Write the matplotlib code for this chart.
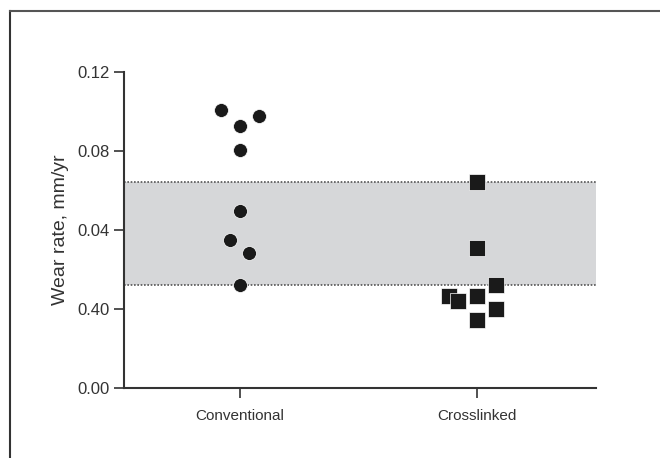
import matplotlib
matplotlib.use("Agg")
import matplotlib.pyplot as plt
from matplotlib.lines import Line2D

plt.rcParams['font.family'] = ['Liberation Sans', 'DejaVu Sans']

categories = ["Conventional", "Crosslinked"]
tick_values = [0.0, 0.03, 0.06, 0.09, 0.12]
tick_labels = ["0.00", "0.40", "0.04", "0.08", "0.12"]

conv_values = [0.1056, 0.1033, 0.0995, 0.0904, 0.0672, 0.0562, 0.0513, 0.0391]
conv_offsets = [-0.08, 0.08, 0.0, 0.0, 0.0, -0.04, 0.04, 0.0]
cross_values = [0.0782, 0.0532, 0.0391, 0.0349, 0.0330, 0.0349, 0.0300, 0.0258]
cross_offsets = [0.0, 0.0, 0.08, -0.12, -0.08, 0.0, 0.08, 0.0]
band_low, band_high = 0.0391, 0.0782

fig = plt.figure(figsize=(6.6, 4.58), dpi=100)
ax = fig.add_axes([124/660, (458-388)/458, (596-124)/660, (388-72)/458])

ax.axhspan(band_low, band_high, color="#d6d7d9", lw=0, zorder=0)
for yv in (band_low, band_high):
    ax.axhline(yv, color="#555555", lw=1.2, ls=(0, (1, 1)), zorder=1)

ax.scatter([0 + o for o in conv_offsets], conv_values, s=100, marker="o",
           color="#1a1a1a", edgecolors="white", linewidths=0.5, zorder=3)
ax.scatter([1 + o for o in cross_offsets], cross_values, s=120, marker="s",
           color="#1a1a1a", edgecolors="white", linewidths=0.5, zorder=3)

ax.set_xlim(-0.489, 1.502)
ax.set_ylim(0, 0.12)
ax.set_yticks(tick_values)
ax.set_yticklabels(tick_labels)
ax.set_xticks([0, 1])
ax.set_xticklabels(categories)
ax.spines['top'].set_visible(False)
ax.spines['right'].set_visible(False)
for s in ('left', 'bottom'):
    ax.spines[s].set_color("#333333")
    ax.spines[s].set_linewidth(1.5)
ax.tick_params(axis='y', length=7, width=1.2, color="#333333", labelsize=12,
               labelcolor="#333333", pad=3)
ax.tick_params(axis='x', length=7, width=1.2, color="#333333", labelsize=11,
               labelcolor="#333333", pad=8)
ax.set_ylabel("Wear rate, mm/yr", fontsize=14, color="#333333", labelpad=6)

# figure frame (top and left)
fig.add_artist(Line2D([9.5/660, 9.5/660], [0, 1 - 10.5/458], transform=fig.transFigure,
                      color="#333333", lw=1.5))
fig.add_artist(Line2D([9.5/660, 1], [1 - 10.5/458, 1 - 10.5/458], transform=fig.transFigure,
                      color="#555555", lw=1.5))

fig.savefig("out.png", dpi=100)
